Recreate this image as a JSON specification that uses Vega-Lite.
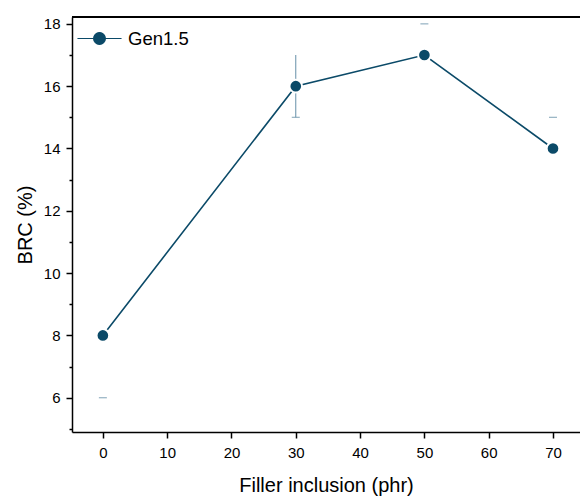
{
  "$schema": "https://vega.github.io/schema/vega-lite/v6.json",
  "width": 508,
  "height": 415,
  "autosize": "none",
  "padding": {"left": 72, "top": 17, "right": 0, "bottom": 64},
  "background": "white",
  "config": {
    "view": {"stroke": null},
    "font": "Liberation Sans",
    "axis": {
      "domainColor": "black", "domainWidth": 1.5, "tickColor": "black", "tickWidth": 1.5,
      "labelFont": "Liberation Sans", "labelFontSize": 15, "labelColor": "black",
      "titleFont": "Liberation Sans", "titleFontSize": 20, "titleFontWeight": "normal", "titleColor": "black",
      "grid": false
    }
  },
  "datasets": {
    "pts": [
      {"filler": 0, "brc": 8, "series": "Gen1.5"},
      {"filler": 30, "brc": 16, "series": "Gen1.5"},
      {"filler": 50, "brc": 17, "series": "Gen1.5"},
      {"filler": 70, "brc": 14, "series": "Gen1.5"}
    ],
    "caps": [
      {"filler": 0, "brc": 6},
      {"filler": 30, "brc": 15},
      {"filler": 50, "brc": 18},
      {"filler": 70, "brc": 15}
    ],
    "bars": [
      {"filler": 30, "lo": 15, "hi": 17}
    ]
  },
  "layer": [
    {
      "data": {"name": "pts"},
      "mark": {"type": "line", "strokeWidth": 1.6},
      "encoding": {
        "x": {"field": "filler", "type": "quantitative", "scale": {"domain": [-4.8, 74.2], "nice": false, "zero": false},
          "axis": {"values": [0,5,10,15,20,25,30,35,40,45,50,55,60,65,70], "title": "Filler inclusion (phr)",
            "labelExpr": "datum.value % 10 === 0 ? datum.label : ''",
            "tickSize": {"condition": {"test": "datum.value % 10 === 0", "value": 6}, "value": 3},
            "labelPadding": 7, "titlePadding": 15}},
        "y": {"field": "brc", "type": "quantitative", "scale": {"domain": [4.9, 18.22], "nice": false, "zero": false},
          "axis": {"values": [6,8,10,12,14,16,18], "title": "BRC (%)", "tickSize": 6,
            "labelPadding": 6, "titlePadding": 8}},
        "color": {"field": "series", "type": "nominal", "scale": {"range": ["#0b4a68"]},
          "legend": {"title": null, "orient": "none", "legendX": 12, "legendY": 6, "padding": 0,
            "symbolType": "M-1.5,0L-0.4,0M0.4,0L1.5,0M-0.4,0A0.4,0.4 0 1,0 0.4,0A0.4,0.4 0 1,0 -0.4,0Z",
            "symbolSize": 864, "symbolStrokeWidth": 1.2, "symbolFillColor": "#0b4a68", "symbolStrokeColor": "#0b4a68",
            "labelFont": "Liberation Sans", "labelFontSize": 18.5, "labelColor": "black", "labelOffset": 13}}
      }
    },
    {
      "data": {"name": "bars"},
      "mark": {"type": "rule", "color": "#6690a8", "strokeWidth": 1},
      "encoding": {
        "x": {"field": "filler", "type": "quantitative"},
        "y": {"field": "lo", "type": "quantitative", "axis": null},
        "y2": {"field": "hi"}
      }
    },
    {
      "data": {"name": "caps"},
      "mark": {"type": "tick", "orient": "horizontal", "color": "#6690a8", "size": 8, "thickness": 1.2},
      "encoding": {
        "x": {"field": "filler", "type": "quantitative"},
        "y": {"field": "brc", "type": "quantitative",
          "axis": {"orient": "left", "values": [5,7,9,11,13,15,17], "labels": false, "title": null, "tickSize": 3, "domain": false}}
      }
    },
    {
      "data": {"name": "pts"},
      "mark": {"type": "point", "filled": true, "size": 160, "opacity": 1, "stroke": "white", "strokeWidth": 2},
      "encoding": {
        "x": {"field": "filler", "type": "quantitative"},
        "y": {"field": "brc", "type": "quantitative", "axis": null},
        "color": {"field": "series", "type": "nominal"}
      }
    },
    {
      "data": {"values": [{}]},
      "mark": {"type": "rule", "color": "black", "strokeWidth": 2},
      "encoding": {
        "y": {"datum": 18.22, "axis": null}
      }
    }
  ],
  "resolve": {"axis": {"y": "independent"}}
}
